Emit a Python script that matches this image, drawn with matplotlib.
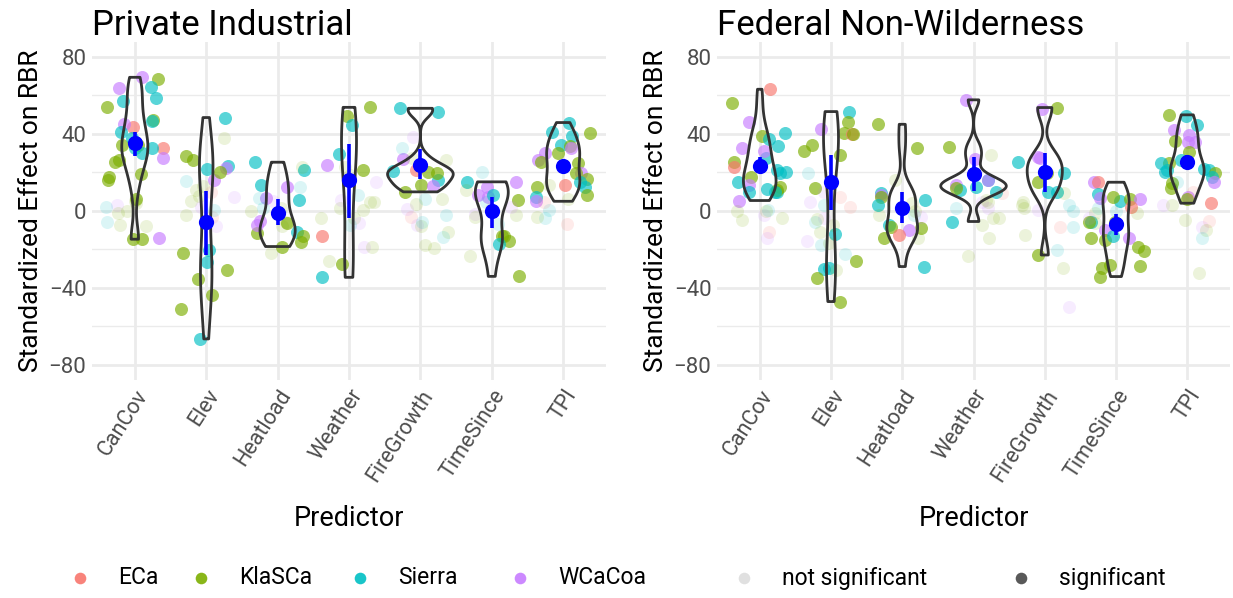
import numpy as np
import matplotlib.pyplot as plt
import matplotlib.transforms as mtransforms
from matplotlib.patches import Polygon

plt.rcParams['font.family'] = ['Roboto', 'DejaVu Sans']

predictors = ["CanCov", "Elev", "Heatload", "Weather", "FireGrowth", "TimeSince", "TPI"]
regions = ["ECa", "KlaSCa", "Sierra", "WCaCoa"]
region_colors = {"ECa": "#F8766D", "KlaSCa": "#7CAE00", "Sierra": "#00BFC4", "WCaCoa": "#C77CFF"}
E, K, S, W = regions

# standardized effects per study fire: (effect, region, significant)
pi_cancov = [(69.4, W, 1), (68.4, K, 1), (64.2, S, 1), (63.7, W, 1), (57, S, 1), (58.5, S, 1),
             (54.2, K, 1), (47.3, K, 1), (46.8, S, 1), (43.8, E, 1), (45, W, 1), (34.3, K, 1),
             (40.9, S, 1), (38.1, S, 1), (32.9, S, 1), (34.3, K, 1), (32.6, E, 1), (32.6, S, 1),
             (30, S, 1), (27.7, W, 1), (26.5, K, 1), (25.3, K, 1), (19.2, K, 1), (17.8, K, 1),
             (16.1, K, 1), (6.2, K, 1), (-14.7, K, 1), (-14.2, W, 1), (-14.7, K, 1),
             (4, K, 0), (5.2, K, 0), (-7.3, K, 0), (-5.5, S, 0), (3, W, 0), (-8, K, 0),
             (-1.2, K, 0), (0, K, 0), (2, S, 0)]
pi_elev = [(48.5, S, 1), (28.6, K, 1), (26.5, K, 1), (23.4, S, 1), (21.7, S, 1), (22.2, W, 1),
           (16.1, W, 1), (20, K, 1), (-22, K, 1), (-20.3, S, 1), (-26.3, S, 1), (-30.6, K, 1),
           (-35.5, K, 1), (-43.6, K, 1), (-51, K, 1), (-66.5, S, 1),
           (11, K, 0), (15.6, S, 0), (38, K, 0), (7.5, K, 0), (7, W, 0), (10, E, 0), (-3, E, 0),
           (0.5, S, 0), (-7.6, W, 0), (-2, K, 0), (13, K, 0), (5, K, 0), (2, W, 0)]
pi_heatload = [(25.3, S, 1), (21, S, 1), (13.5, S, 1), (12.6, W, 1), (6.6, W, 1), (5.7, S, 1),
               (-6.4, K, 1), (-11.6, K, 1), (-11, S, 1), (-12.8, K, 1), (-16.3, K, 1),
               (-18.5, K, 1), (-7.3, W, 1), (-5.2, W, 1),
               (23, K, 0), (1.4, K, 0), (6.6, S, 0), (12.6, S, 0), (-5.5, K, 0), (-8, K, 0),
               (-22, K, 0), (5, W, 0), (1.4, S, 0), (0, K, 0)]
pi_weather = [(53.8, K, 1), (49.4, K, 1), (44.7, S, 1), (29.6, S, 1), (21.3, K, 1), (-12.8, E, 1),
              (-27.7, K, 1), (-34.5, S, 1), (23.9, W, 1),
              (15.2, W, 0), (8.3, S, 0), (23, K, 0), (18.7, K, 0), (4.8, K, 0), (1.4, K, 0),
              (-3.8, K, 0), (-6.4, W, 0), (5.7, W, 0), (-7.3, S, 0), (-18.5, W, 0), (-18.5, K, 0),
              (-26, K, 0), (4.8, K, 0), (-3.8, K, 0), (0.5, K, 0)]
pi_firegrowth = [(51.6, S, 1), (53.3, S, 1), (21.3, E, 1), (16.1, S, 1), (20.8, S, 1),
                 (20.4, K, 1), (19.9, K, 1), (13.7, K, 1), (12.8, W, 1), (9.9, K, 1), (27, W, 1),
                 (38.6, W, 0), (32.5, S, 0), (27.4, K, 0), (26.5, K, 0), (6.4, S, 0), (-3, E, 0),
                 (1.2, W, 0), (-2, S, 0), (-7.3, W, 0), (-10.7, K, 0), (-8, K, 0), (-5.5, S, 0),
                 (-13.3, S, 0), (-19.4, K, 0), (-17.7, K, 0), (3.8, K, 0), (6.4, K, 0)]
pi_timesince = [(12.5, W, 1), (15.1, W, 1), (15.1, S, 1), (7.3, W, 1), (8.1, S, 1), (5.5, K, 1),
                (8.1, W, 1), (-15.7, K, 1), (-13, K, 1), (-13, K, 1), (-17, S, 1), (-34, K, 1),
                (20.3, S, 0), (4.8, S, 0), (-1.4, W, 0), (10.7, K, 0), (-3.1, K, 0), (-2.2, K, 0),
                (2, W, 0), (-23.3, K, 0), (-6.6, S, 0), (1, E, 0)]
pi_tpi = [(45.9, S, 1), (39, S, 1), (41.1, S, 1), (40.6, K, 1), (34, S, 1), (33.8, K, 1),
          (32.9, W, 1), (30, W, 1), (26.5, W, 1), (30, K, 1), (24.8, K, 1), (19.6, W, 1),
          (19.6, K, 1), (25.6, K, 1), (16.8, K, 1), (15, S, 1), (12.5, S, 1), (13.7, E, 1),
          (8.1, K, 1), (12.5, K, 1), (7.3, S, 1), (5, W, 1),
          (13.5, K, 0), (0.5, S, 0), (-3.8, S, 0), (-6.8, E, 0), (-3, K, 0), (6.4, K, 0), (4.8, E, 0)]

fn_cancov = [(63.2, E, 1), (55.8, K, 1), (46.4, W, 1), (40.7, S, 1), (39, K, 1), (33.9, S, 1),
             (37.4, S, 1), (27.4, S, 1), (32.6, W, 1), (31.2, W, 1), (25.3, K, 1), (21, S, 1),
             (20.4, S, 1), (19.9, S, 1), (23, E, 1), (17.8, K, 1), (13.5, W, 1), (15.2, S, 1),
             (11.4, S, 1), (10, S, 1), (10, S, 1), (12.6, K, 1), (10.9, K, 1), (5.4, W, 1), (10, S, 1),
             (-3.8, K, 0), (-4.7, K, 0), (-2, W, 0), (0.5, S, 0), (-0.3, K, 0), (0, K, 0),
             (-10.7, E, 0), (-14.2, W, 0)]
fn_elev = [(51.6, S, 1), (46.4, K, 1), (42.6, W, 1), (40.3, K, 1), (39.8, E, 1), (39.8, K, 1),
           (34.3, K, 1), (31.2, K, 1), (29.1, K, 1), (11.8, K, 1), (-12.1, S, 1), (-26, K, 1),
           (-30.1, S, 1), (-34.6, K, 1), (-29.4, S, 1), (-47.1, K, 1),
           (19.6, S, 0), (10, W, 0), (4.8, W, 0), (7.4, E, 0), (2.2, E, 0), (3.1, S, 0),
           (-3.8, W, 0), (-7.3, K, 0), (-5.5, S, 0), (-4.2, K, 0), (-17.7, S, 0), (-16.8, K, 0),
           (-15.6, W, 0), (-22.5, S, 0), (-30.6, K, 0), (-10.7, K, 0)]
fn_heatload = [(45, K, 1), (32.6, K, 1), (9.2, S, 1), (8.3, W, 1), (7.4, K, 1), (3.1, S, 1),
               (5.7, S, 1), (-7.3, S, 1), (-8.1, K, 1), (-9, K, 1), (-9.9, W, 1), (-13.9, K, 1),
               (-12.5, E, 1), (-28.9, S, 1),
               (16.1, K, 0), (-2, S, 0), (-2, K, 0), (0, K, 0), (-14.2, K, 0), (-3, W, 0), (4, K, 0)]
fn_weather = [(57.7, W, 1), (33.4, K, 1), (27, W, 1), (16.1, S, 1), (13.5, W, 1), (10.9, S, 1),
              (12.6, S, 1), (16.1, W, 1), (10, S, 1), (-5.5, S, 1), (12, K, 1),
              (29, K, 0), (4.8, W, 0), (5.7, K, 0), (9.2, E, 0), (-3.8, K, 0), (-3.8, K, 0),
              (-14.2, K, 0), (-23.2, K, 0), (-7.3, K, 0), (1.4, S, 0), (1.4, W, 0), (4.8, K, 0)]
fn_firegrowth = [(53.7, K, 1), (52.8, W, 1), (28.2, W, 1), (27.4, W, 1), (25.3, S, 1), (19.6, S, 1),
                 (19.6, K, 1), (15.2, K, 1), (10, S, 1), (10, S, 1), (-22.9, K, 1),
                 (9.2, K, 0), (3.1, S, 0), (0.5, W, 0), (1.4, K, 0), (-8.1, E, 0), (-8.1, S, 0),
                 (-12.5, K, 0), (-20.3, S, 0), (-29.4, K, 0), (-49.7, W, 0), (4.8, K, 0),
                 (3, K, 0), (-0.3, S, 0)]
fn_timesince = [(14.9, W, 1), (14.9, E, 1), (5.2, S, 1), (7.4, K, 1), (6, K, 1), (8.7, S, 1),
                (6.2, W, 1), (6.6, W, 1), (2.2, E, 1), (-5.5, S, 1), (-5.5, K, 1), (-5.5, K, 1),
                (-9.9, W, 1), (-15, K, 1), (-13.9, W, 1), (-12.8, S, 1), (-14.2, K, 1),
                (-20.8, K, 1), (-19, K, 1), (-28.4, K, 1), (-29.4, K, 1), (-28, K, 1), (-34.1, K, 1),
                (-1.2, K, 0), (-3.8, W, 0), (-0.3, S, 0), (-6.4, K, 0), (1.4, S, 0), (-1, K, 0)]
fn_tpi = [(49.5, S, 1), (49.9, K, 1), (44.7, S, 1), (42.1, W, 1), (39.5, W, 1), (36.4, K, 1),
          (36, W, 1), (36, W, 1), (30.8, K, 1), (26.5, S, 1), (21.8, S, 1), (21.3, S, 1),
          (24.8, K, 1), (21.3, S, 1), (20.4, S, 1), (19.6, K, 1), (17.8, S, 1), (14.4, K, 1),
          (14.9, W, 1), (11.8, K, 1), (7.4, W, 1), (6.2, K, 1), (4, E, 1), (25, S, 1),
          (15.2, S, 0), (10, E, 0), (3.1, W, 0), (3, K, 0), (-4.7, K, 0), (-5.2, E, 0),
          (-8.1, W, 0), (-9.9, K, 0), (-13.9, S, 0), (-32.4, K, 0)]

# mean effect of significant fires with interval
pi_mean = [35.2, -5.9, -0.9, 15.8, 24.1, -0.3, 23.5]
pi_lo = [28.7, -22.9, -7.3, -3.8, 16.5, -8.7, 20.4]
pi_hi = [41.2, 10.6, 6.1, 34.6, 32.4, 7.4, 26.5]
fn_mean = [23.5, 15.2, 1.4, 19.0, 20.4, -6.9, 25.3]
fn_lo = [19.6, 0.5, -6.4, 10.6, 10.0, -12.5, 22.2]
fn_hi = [28.2, 29.1, 10.0, 27.9, 30.0, -1.6, 29.1]

panels = [
    ("Private Industrial",
     [pi_cancov, pi_elev, pi_heatload, pi_weather, pi_firegrowth, pi_timesince, pi_tpi],
     pi_mean, pi_lo, pi_hi),
    ("Federal Non-Wilderness",
     [fn_cancov, fn_elev, fn_heatload, fn_weather, fn_firegrowth, fn_timesince, fn_tpi],
     fn_mean, fn_lo, fn_hi),
]


def kde_trimmed(vals):
    v = np.asarray(vals, float)
    n = len(v)
    iqr = np.subtract(*np.percentile(v, [75, 25]))
    spread = min(v.std(ddof=1), iqr / 1.34) if iqr > 0 else v.std(ddof=1)
    bw = 0.9 * spread * n ** -0.2
    grid = np.linspace(v.min(), v.max(), 512)
    z = (grid[:, None] - v[None, :]) / bw
    dens = np.exp(-0.5 * z ** 2).sum(axis=1) / (n * bw * np.sqrt(2 * np.pi))
    return grid, dens


fig = plt.figure(figsize=(12.33, 5.98), dpi=100)
axes = [fig.add_axes([0.0746, 0.364, 0.4169, 0.5666]),
        fig.add_axes([0.5815, 0.364, 0.4161, 0.5666])]

rng = np.random.default_rng(7)
shift = mtransforms.ScaledTranslation(8 / 100, 0, fig.dpi_scale_trans)
for ax, (title, groups, mean, lo, hi) in zip(axes, panels):
    ax.set_xlim(0.4, 7.6)
    ax.set_ylim(-88, 88)
    ax.set_yticks([-80, -40, 0, 40, 80])
    ax.set_yticks([-60, -20, 20, 60], minor=True)
    ax.set_xticks(range(1, 8))
    ax.set_xticklabels(predictors, rotation=57, ha='right', va='top',
                       rotation_mode='anchor', fontsize=15.5, color='#4D4D4D')
    for lab in ax.get_xticklabels():
        lab.set_transform(lab.get_transform() + shift)
    ax.tick_params(axis='y', labelsize=16, labelcolor='#4D4D4D')
    ax.tick_params(which='both', length=0, pad=4)
    ax.grid(True, which='major', color='#EBEBEB', lw=2.0)
    ax.grid(True, which='minor', axis='y', color='#EBEBEB', lw=1.0)
    ax.set_axisbelow(True)
    for sp in ax.spines.values():
        sp.set_visible(False)

    # jittered points
    for i, grp in enumerate(groups, start=1):
        for val, reg, sig in grp:
            xj = i + rng.uniform(-0.4, 0.4)
            ax.scatter(xj, val, s=88, color=region_colors[reg],
                       alpha=0.65 if sig else 0.14, lw=0, zorder=2)

    # violins of the significant fires
    shapes = []
    for grp in groups:
        sig_vals = [v for v, r, s in grp if s]
        shapes.append(kde_trimmed(sig_vals))
    dmax = max(d.max() for g, d in shapes)
    for i, (g, d) in enumerate(shapes, start=1):
        hw = 0.46 * d / dmax
        xs = np.concatenate([i + hw, (i - hw)[::-1]])
        ys = np.concatenate([g, g[::-1]])
        ax.add_patch(Polygon(np.column_stack([xs, ys]), closed=True, fill=False,
                             edgecolor='#333333', lw=2.0, joinstyle='round', zorder=3))

    xs = np.arange(1, 8)
    ax.vlines(xs, lo, hi, color='#0000FF', lw=2.6, zorder=4)
    ax.scatter(xs, mean, s=120, color='#0000FF', lw=0, zorder=5)

    ax.set_title(title, loc='left', fontsize=25, pad=4)
    ax.set_ylabel("Standardized Effect on RBR", fontsize=19, labelpad=4)
    ax.set_xlabel("Predictor", fontsize=19.5, labelpad=14)

# legend row
lax = fig.add_axes([0, 0, 1, 0.07])
lax.set_xlim(0, 1233)
lax.set_ylim(0, 1)
lax.axis('off')
ly = 20 / 41.86
items = [(80, region_colors[E], 0.9, "ECa"), (201, region_colors[K], 0.9, "KlaSCa"),
         (360, region_colors[S], 0.9, "Sierra"), (520, region_colors[W], 0.9, "WCaCoa"),
         (744, '#000000', 0.12, "not significant"), (1021, '#000000', 0.65, "significant")]
for x0, col, a, lab in items:
    lax.scatter(x0, ly, s=70, color=col, alpha=a, lw=0)
    lax.text(x0 + 38, ly, lab, fontsize=16.5, va='center', ha='left')

fig.savefig("out.png", dpi=100)
